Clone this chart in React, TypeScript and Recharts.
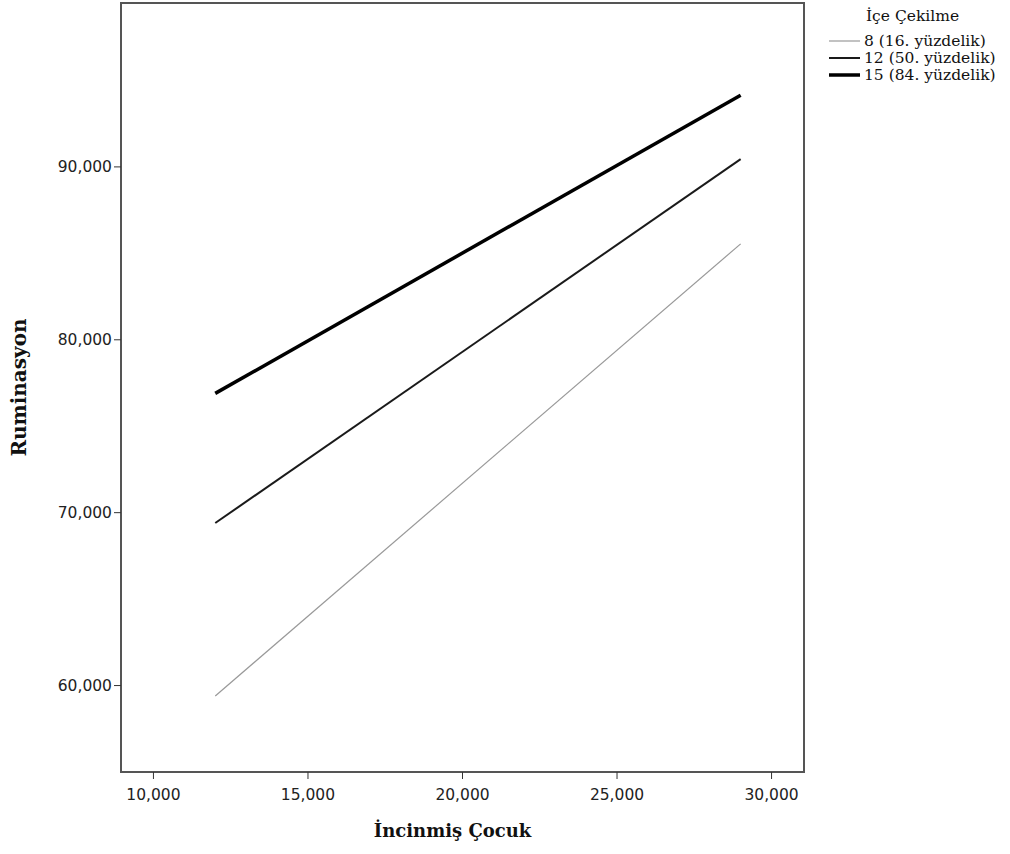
import { LineChart, Line, XAxis, YAxis, ReferenceArea, Label } from "recharts"

const xValues = [12000, 29000]
const lowValues = [59400, 85550]
const midValues = [69400, 90450]
const highValues = [76900, 94150]

const xTicks = [10000, 15000, 20000, 25000, 30000]
const yTicks = [60000, 70000, 80000, 90000]

const legendTitle = "İçe Çekilme"
const series = [
  { key: "low", name: "8 (16. yüzdelik)", color: "#999999", width: 1.2 },
  { key: "mid", name: "12 (50. yüzdelik)", color: "#1a1a1a", width: 2 },
  { key: "high", name: "15 (84. yüzdelik)", color: "#000000", width: 3.5 },
]

const data = xValues.map((x, i) => ({
  x,
  low: lowValues[i],
  mid: midValues[i],
  high: highValues[i],
}))

const fmt = (v: number) => v.toLocaleString("en-US")

const tickStyle = { fontFamily: "DejaVu Sans", fontSize: 15.5, fill: "#222" }
const titleStyle = { fontFamily: "DejaVu Serif", fontWeight: "bold", fontSize: 18, fill: "#111" }
const legendFont = "DejaVu Serif"

function LegendBox() {
  return (
    <svg
      width={190}
      height={110}
      style={{ position: "absolute", left: 820, top: 0 }}
    >
      <text x={46} y={21} fontFamily={legendFont} fontSize={15.5} fill="#111">
        {legendTitle}
      </text>
      {series.map((s, i) => (
        <g key={s.key}>
          <line
            x1={9}
            x2={40}
            y1={41 + i * 17}
            y2={41 + i * 17}
            stroke={s.color}
            strokeWidth={s.width}
          />
          <text
            x={44}
            y={46 + i * 17}
            fontFamily={legendFont}
            fontSize={15.5}
            fill="#111"
          >
            {s.name}
          </text>
        </g>
      ))}
    </svg>
  )
}

export default function App() {
  return (
    <div style={{ position: "absolute", left: 0, top: 0, width: 1010, height: 854, background: "#fff" }}>
      <LineChart
        width={1010}
        height={854}
        data={data}
        margin={{ top: 3, right: 206, bottom: 0, left: 0 }}
      >
        <XAxis
          dataKey="x"
          type="number"
          domain={[8950, 31050]}
          ticks={xTicks}
          tickFormatter={fmt}
          height={82}
          axisLine={{ stroke: "#555", strokeWidth: 2 }}
          tickLine={{ stroke: "#333" }}
          tickSize={7}
          tickMargin={10}
          tick={tickStyle}
        >
          <Label
            value="İncinmiş Çocuk"
            position="insideBottom"
            offset={17}
            dx={-10}
            style={titleStyle}
          />
        </XAxis>
        <YAxis
          type="number"
          domain={[55000, 99480]}
          ticks={yTicks}
          tickFormatter={fmt}
          width={121}
          axisLine={{ stroke: "#555", strokeWidth: 2 }}
          tickLine={{ stroke: "#333" }}
          tickSize={7}
          tick={tickStyle}
        >
          <Label
            value="Ruminasyon"
            angle={-90}
            position="insideLeft"
            offset={19}
            style={{ ...titleStyle, fontSize: 20, textAnchor: "middle" }}
          />
        </YAxis>
        <ReferenceArea
          x1={8950}
          x2={31050}
          y1={55000}
          y2={99480}
          fill="none"
          stroke="#555"
          strokeWidth={2}
        />
        {series.map((s) => (
          <Line
            key={s.key}
            dataKey={s.key}
            name={s.name}
            stroke={s.color}
            strokeWidth={s.width}
            dot={false}
            isAnimationActive={false}
          />
        ))}
      </LineChart>
      <LegendBox />
    </div>
  )
}
